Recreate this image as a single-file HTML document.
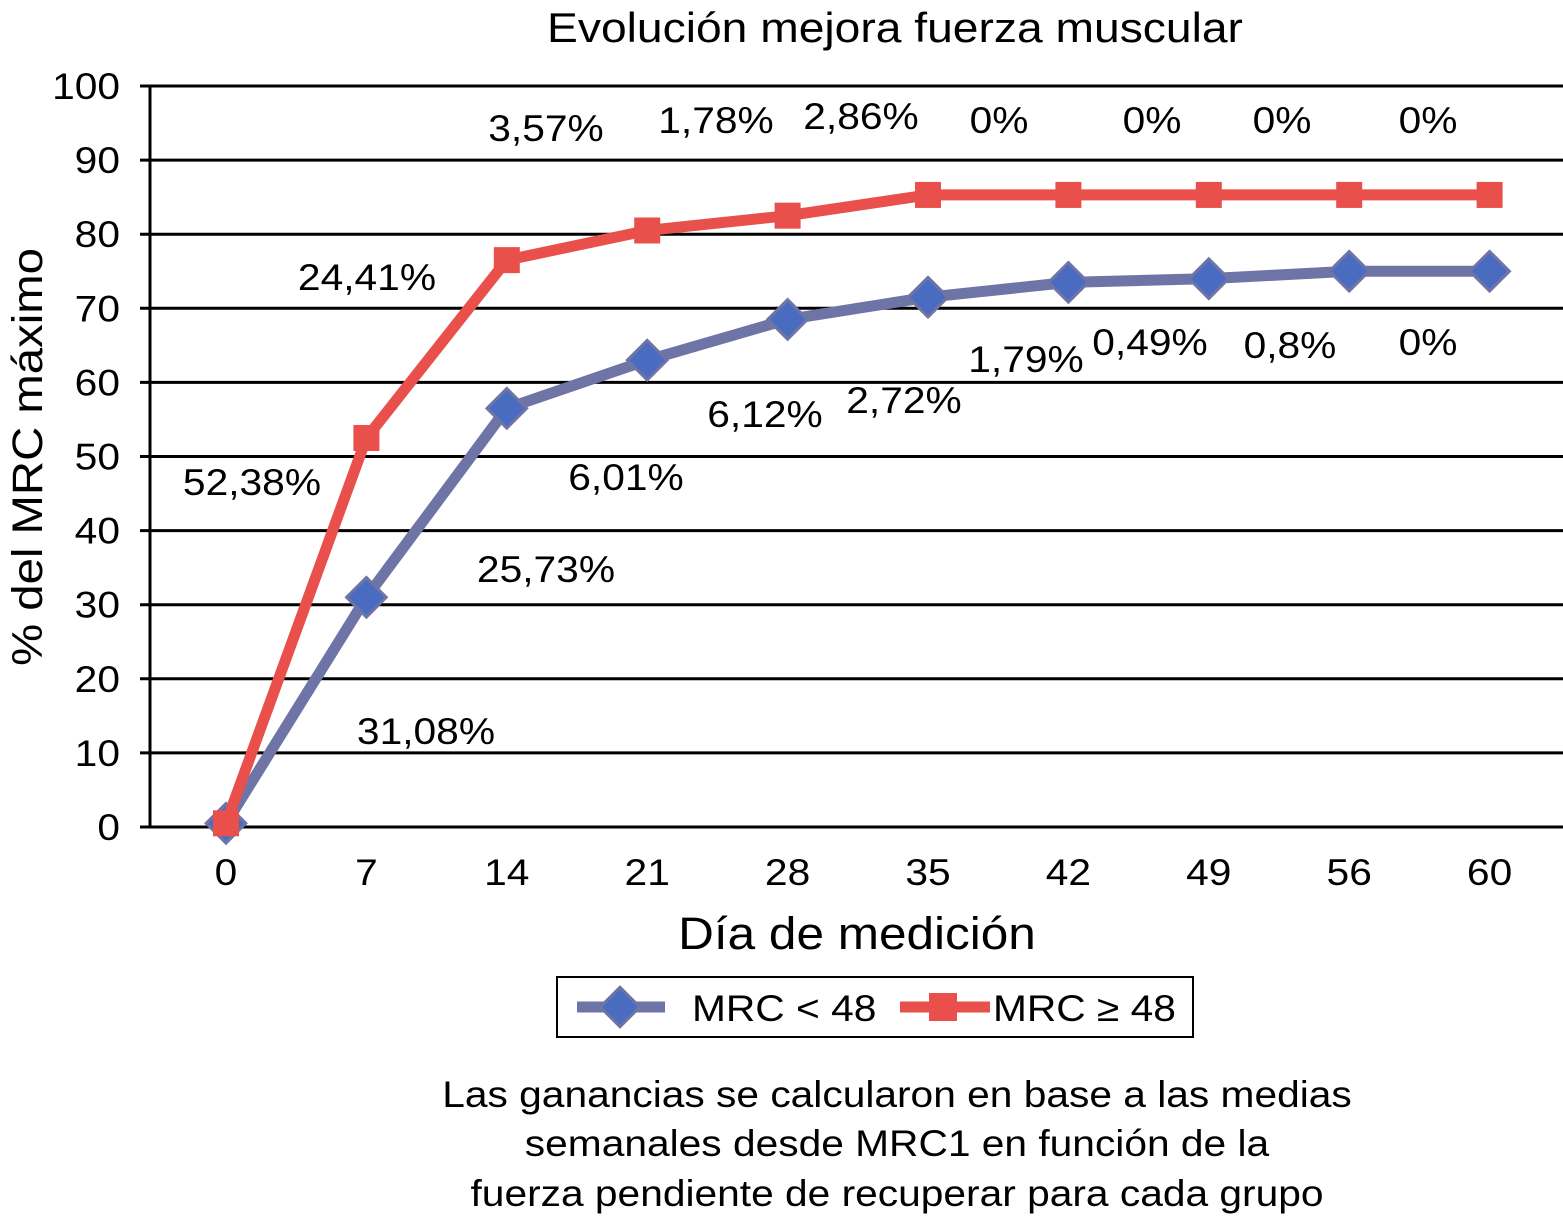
<!DOCTYPE html>
<html><head><meta charset="utf-8"><style>
body{margin:0;background:#fff;}
svg{display:block;font-family:"Liberation Sans",Arial,sans-serif;}
</style></head><body>
<svg id="c" width="1563" height="1216" viewBox="0 0 1563 1216">
<text x="895" y="42" font-size="42" text-anchor="middle">Evolución mejora fuerza muscular</text>
<g id="grid"></g>
<g id="yt"></g>
<g id="xt"></g>
<text transform="translate(42,457) rotate(-90)" font-size="43" text-anchor="middle">% del MRC máximo</text>
<text x="857" y="949" font-size="45" text-anchor="middle">Día de medición</text>
<g id="series"></g>
<g font-size="37">
<text x="546" y="141" text-anchor="middle">3,57%</text>
<text x="716" y="133" text-anchor="middle">1,78%</text>
<text x="861" y="129" text-anchor="middle">2,86%</text>
<text x="999" y="133" text-anchor="middle">0%</text>
<text x="1152" y="133" text-anchor="middle">0%</text>
<text x="1282" y="133" text-anchor="middle">0%</text>
<text x="1428" y="133" text-anchor="middle">0%</text>
<text x="367" y="290" text-anchor="middle">24,41%</text>
<text x="252" y="495" text-anchor="middle">52,38%</text>
<text x="426" y="744" text-anchor="middle">31,08%</text>
<text x="546" y="582" text-anchor="middle">25,73%</text>
<text x="626" y="490" text-anchor="middle">6,01%</text>
<text x="765" y="427" text-anchor="middle">6,12%</text>
<text x="904" y="413" text-anchor="middle">2,72%</text>
<text x="1026" y="372" text-anchor="middle">1,79%</text>
<text x="1150" y="355" text-anchor="middle">0,49%</text>
<text x="1290" y="358" text-anchor="middle">0,8%</text>
<text x="1428" y="355" text-anchor="middle">0%</text>
</g>
<g>
<rect x="557" y="977" width="636" height="60" fill="#fff" stroke="#000" stroke-width="2"/>
<line x1="577" y1="1007" x2="665" y2="1007" stroke="#6f74a6" stroke-width="11"/>
<rect x="606" y="993" width="28" height="28" fill="#4a6cc0" stroke="#6f74a6" stroke-width="3" transform="rotate(45 620 1007)"/>
<text x="692" y="1021" font-size="37">MRC &lt; 48</text>
<line x1="900" y1="1007" x2="990" y2="1007" stroke="#e9504b" stroke-width="11"/>
<rect x="929" y="993" width="28" height="28" fill="#e9504b"/>
<text x="993" y="1021" font-size="37">MRC ≥ 48</text>
</g>
<g font-size="37" text-anchor="middle">
<text x="897" y="1107">Las ganancias se calcularon en base a las medias</text>
<text x="897" y="1156">semanales desde MRC1 en función de la</text>
<text x="897" y="1206">fuerza pendiente de recuperar para cada grupo</text>
</g>
</svg>
<script>
const categories=["0","7","14","21","28","35","42","49","56","60"];
const yTicks=[0,10,20,30,40,50,60,70,80,90,100];
const blueValues=[0.5,31,56.5,63,68.5,71.5,73.5,74,75,75];
const redValues=[0.5,52.5,76.5,80.5,82.5,85.3,85.3,85.3,85.3,85.3];
const NS="http://www.w3.org/2000/svg";
const xS=i=>226+i*140.4;
const yS=v=>827-v*7.41;
function mk(tag,attrs,parent,txt){const e=document.createElementNS(NS,tag);for(const k in attrs)e.setAttribute(k,attrs[k]);if(txt!==undefined)e.textContent=txt;parent.appendChild(e);return e;}
const grid=document.getElementById('grid'),yt=document.getElementById('yt'),xt=document.getElementById('xt'),ser=document.getElementById('series');
yTicks.forEach(v=>{
 const l=mk('line',{x1:140,x2:1563,y1:yS(v),y2:yS(v),stroke:'#000','stroke-width':3},grid);
 
 
 const t=mk('text',{x:120,y:yS(v)+13,'font-size':37,'text-anchor':'end'},yt,String(v));
 
 
});
const ax=mk('line',{x1:150,x2:150,y1:yS(100),y2:yS(0)+1,stroke:'#000','stroke-width':3},grid);


categories.forEach((c,i)=>{
 const t=mk('text',{x:xS(i),y:885,'font-size':37,'text-anchor':'middle'},xt,c);
 
 
});
function drawSeries(vals,color,marker,name){
 const p=mk('polyline',{points:vals.map((v,i)=>xS(i)+','+yS(v)).join(' '),fill:'none',stroke:color,'stroke-width':11,'stroke-linejoin':'round'},ser);
 
 
 vals.forEach((v,i)=>{
  let m;
  if(marker==='d'){m=mk('rect',{x:xS(i)-14,y:yS(v)-14,width:28,height:28,fill:'#4a6cc0',stroke:'#6f74a6','stroke-width':3,transform:`rotate(45 ${xS(i)} ${yS(v)})`},ser);}
  else{m=mk('rect',{x:xS(i)-13,y:yS(v)-13,width:26,height:26,fill:'#e9504b'},ser);}
  
  
 });
}
drawSeries(blueValues,'#6f74a6','d','mrc-lt-48');
drawSeries(redValues,'#e9504b','s','mrc-ge-48');
// widen glyphs horizontally to match the reference's wider face
document.querySelectorAll('svg text').forEach(t=>{
 const w=t.getComputedTextLength();
 if(w>0){t.setAttribute('textLength',(w*1.1).toFixed(1));t.setAttribute('lengthAdjust','spacingAndGlyphs');}
});
</script>
</body></html>
